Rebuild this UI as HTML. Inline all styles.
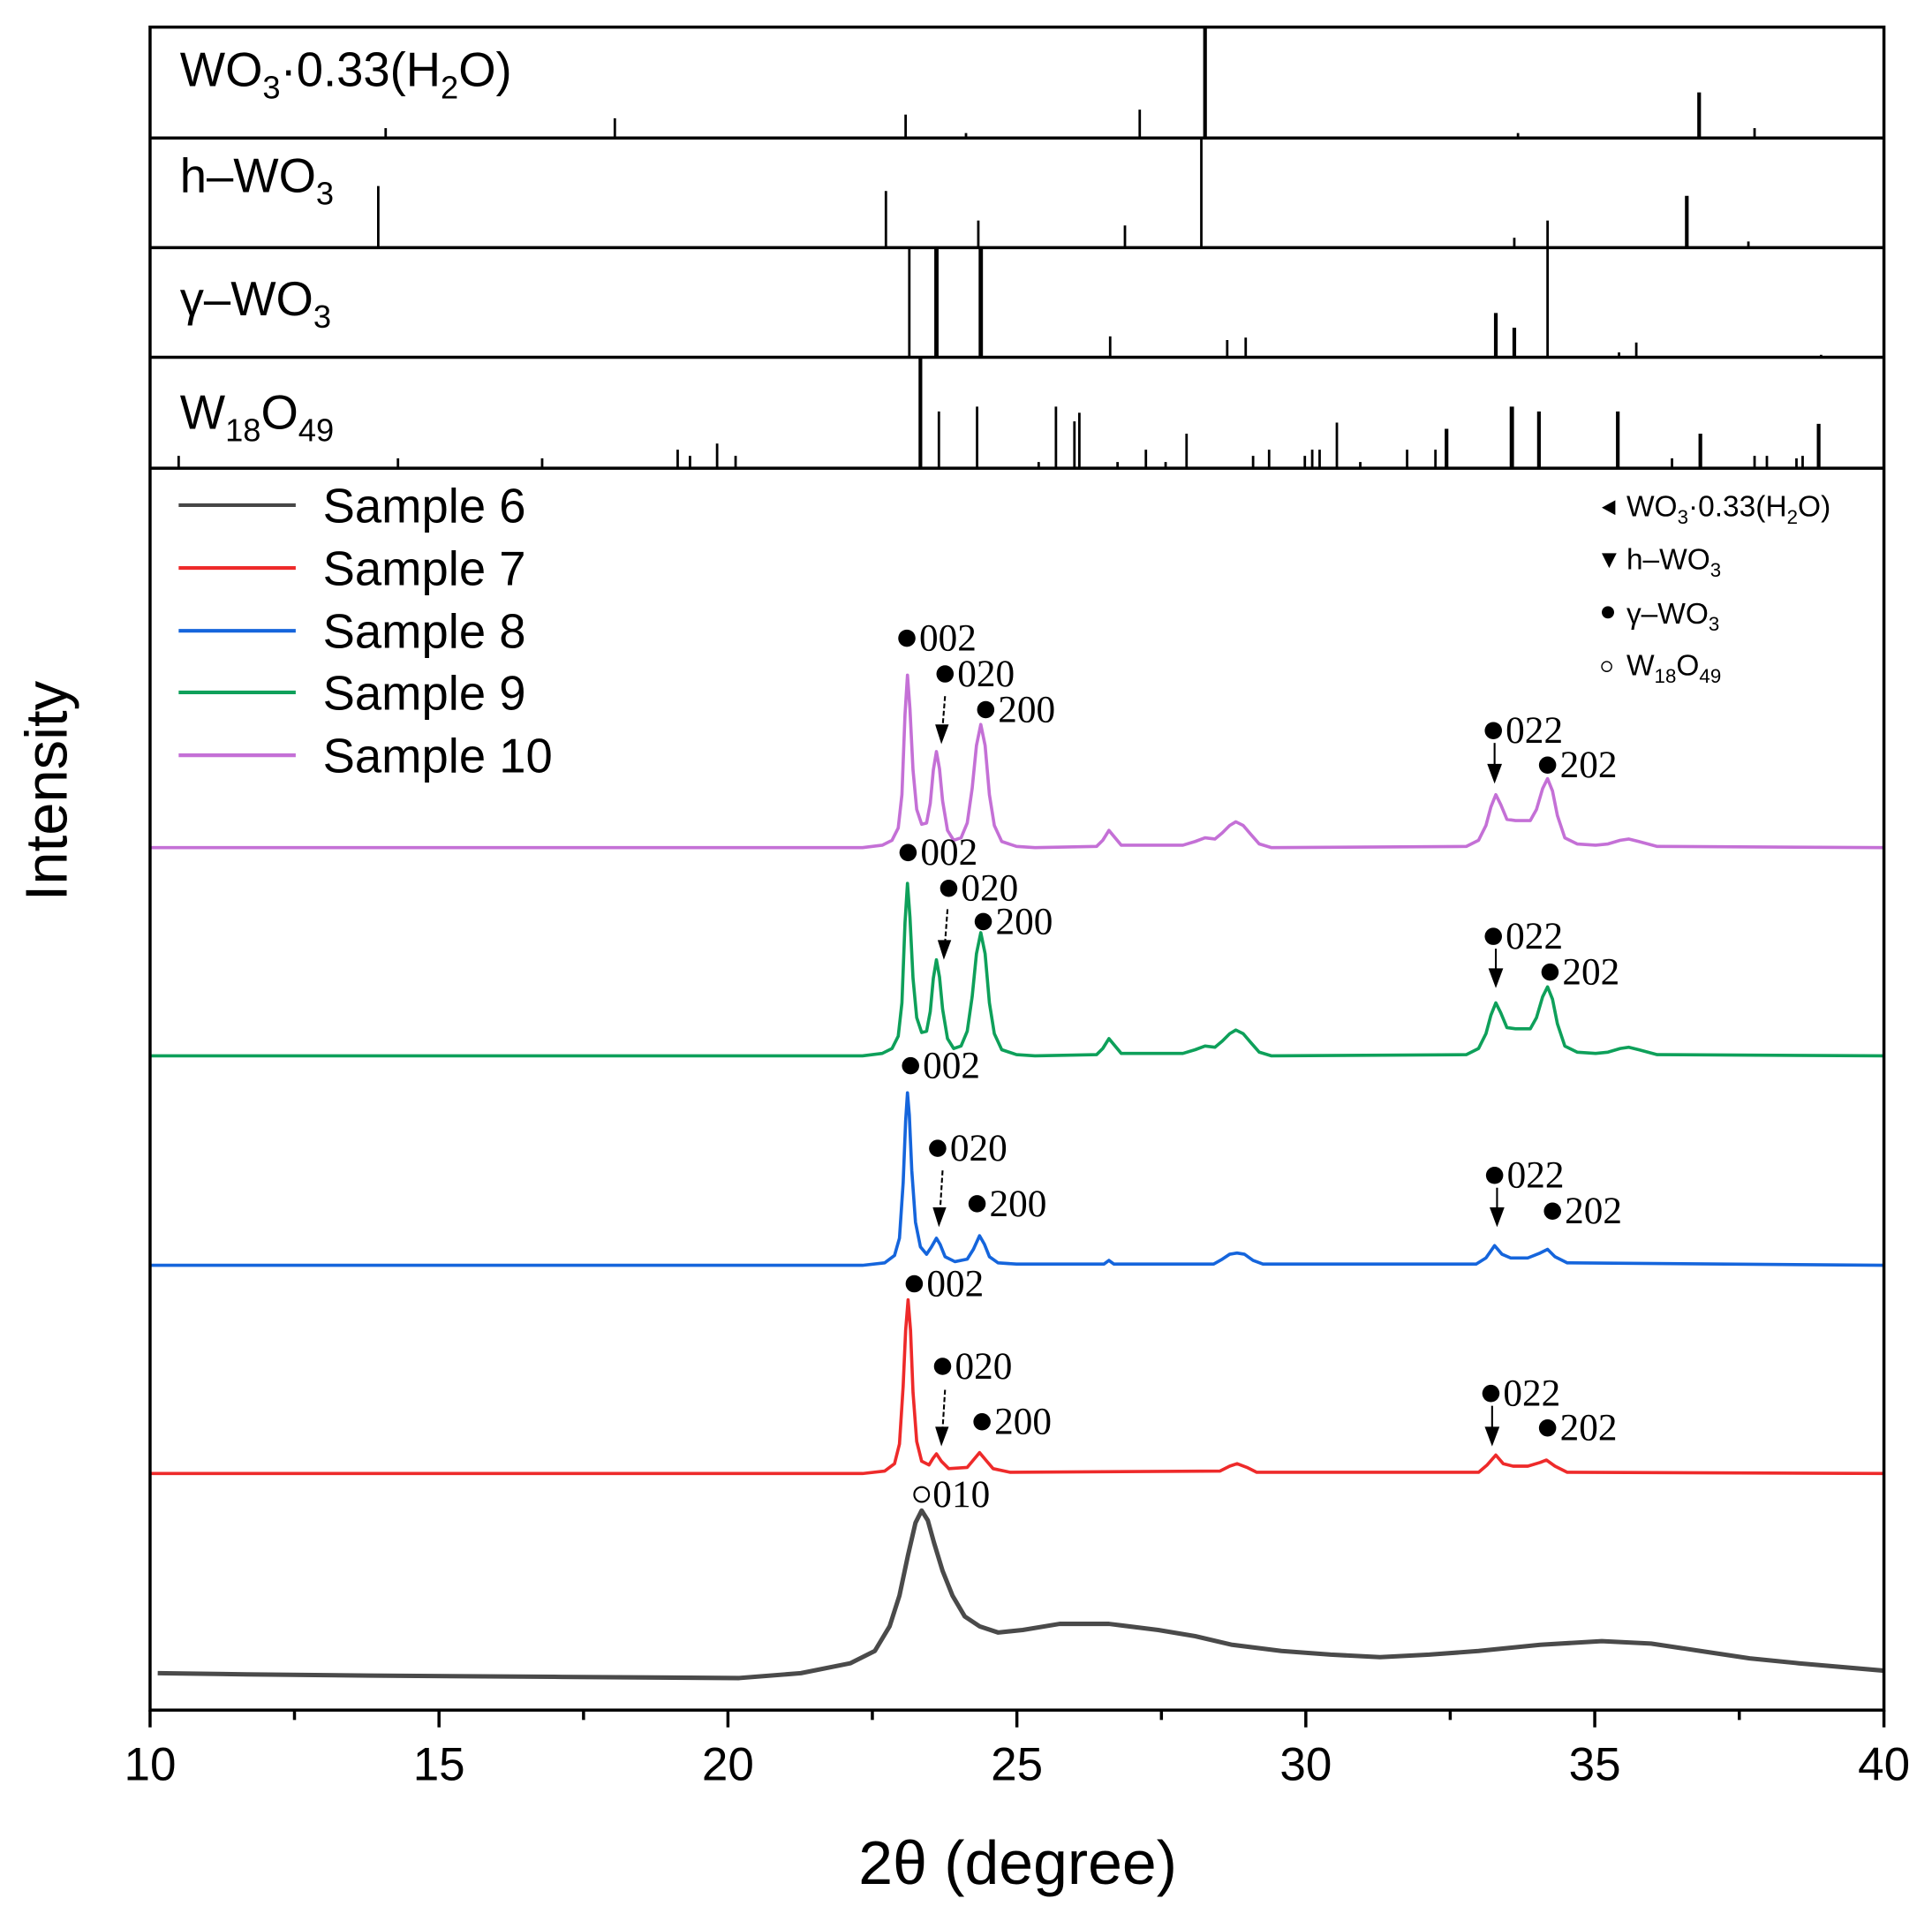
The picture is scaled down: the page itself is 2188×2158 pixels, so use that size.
<!DOCTYPE html>
<html><head><meta charset="utf-8"><style>
html,body{margin:0;padding:0;background:#fff;}
svg{display:block;}
text{font-family:"Liberation Sans",sans-serif;}
.s text{font-family:"Liberation Serif",serif;font-size:31px;}
</style></head><body>
<svg width="2188" height="2158" viewBox="0 0 1568 1547" preserveAspectRatio="none" xmlns="http://www.w3.org/2000/svg">
<rect width="1568" height="1547" fill="#fff"/>
<defs>
<polyline id="p10" fill="none" points="122,688 700,688 716,686 724,682 729,672 732,645 734.5,580 736.5,548 738.5,575 741,625 744,657 748,669 752,668 755,652 757.5,625 760,610 762.5,624 765,650 769,674 774,682 780,680 785,668 789,640 792.5,605 796,588 799.5,605 803,645 807,670 813,683 825,687 840,688 890,687 895,682 900,674 905,680 910,686 960,686 970,683 978,680 986,681 992,676 998,670 1003,667 1009,670 1015,677 1022,685 1032,688 1190,687 1200,682 1206,670 1210,655 1214,645 1218,653 1223,665 1230,666 1237,666 1242,666 1247,657 1252,640 1256,632 1260,642 1264,662 1270,680 1280,685 1295,686 1305,685 1315,682 1322,681 1330,683 1345,687 1529,688"/>
</defs>
<!-- sticks -->
<g stroke="#000" stroke-width="2">
<line x1="313" y1="112" x2="313" y2="104"/><line x1="499" y1="112" x2="499" y2="96"/><line x1="735" y1="112" x2="735" y2="93"/><line x1="784" y1="112" x2="784" y2="108"/><line x1="925" y1="112" x2="925" y2="89"/><line x1="978" y1="112" x2="978" y2="22" stroke-width="3"/><line x1="1232" y1="112" x2="1232" y2="108"/><line x1="1379" y1="112" x2="1379" y2="75" stroke-width="3"/><line x1="1424" y1="112" x2="1424" y2="104"/>
<line x1="307" y1="201" x2="307" y2="151"/><line x1="719" y1="201" x2="719" y2="155"/><line x1="794" y1="201" x2="794" y2="179"/><line x1="913" y1="201" x2="913" y2="183"/><line x1="975" y1="201" x2="975" y2="112"/><line x1="1229" y1="201" x2="1229" y2="193"/><line x1="1256" y1="201" x2="1256" y2="179"/><line x1="1369" y1="201" x2="1369" y2="159" stroke-width="3"/><line x1="1419" y1="201" x2="1419" y2="196"/>
<line x1="738" y1="290" x2="738" y2="201"/><line x1="760" y1="290" x2="760" y2="201" stroke-width="3.5"/><line x1="796" y1="290" x2="796" y2="201" stroke-width="3.5"/><line x1="901" y1="290" x2="901" y2="273"/><line x1="996" y1="290" x2="996" y2="276"/><line x1="1011" y1="290" x2="1011" y2="274"/><line x1="1214" y1="290" x2="1214" y2="254" stroke-width="3"/><line x1="1229" y1="290" x2="1229" y2="266" stroke-width="3"/><line x1="1256" y1="290" x2="1256" y2="201"/><line x1="1314" y1="290" x2="1314" y2="286"/><line x1="1328" y1="290" x2="1328" y2="278"/><line x1="1478" y1="290" x2="1478" y2="288"/>
<line x1="145" y1="380" x2="145" y2="370"/><line x1="323" y1="380" x2="323" y2="372"/><line x1="440" y1="380" x2="440" y2="372"/><line x1="550" y1="380" x2="550" y2="365"/><line x1="560" y1="380" x2="560" y2="370"/><line x1="582" y1="380" x2="582" y2="360"/><line x1="597" y1="380" x2="597" y2="370"/><line x1="747" y1="380" x2="747" y2="290" stroke-width="3"/><line x1="762" y1="380" x2="762" y2="334"/><line x1="793" y1="380" x2="793" y2="330"/><line x1="843" y1="380" x2="843" y2="375"/><line x1="857" y1="380" x2="857" y2="330"/><line x1="872" y1="380" x2="872" y2="342"/><line x1="876" y1="380" x2="876" y2="335"/><line x1="907" y1="380" x2="907" y2="375"/><line x1="930" y1="380" x2="930" y2="365"/><line x1="946" y1="380" x2="946" y2="375"/><line x1="963" y1="380" x2="963" y2="352"/><line x1="1017" y1="380" x2="1017" y2="370"/><line x1="1030" y1="380" x2="1030" y2="365"/><line x1="1059" y1="380" x2="1059" y2="370"/><line x1="1065" y1="380" x2="1065" y2="365"/><line x1="1071" y1="380" x2="1071" y2="365"/><line x1="1085" y1="380" x2="1085" y2="343"/><line x1="1104" y1="380" x2="1104" y2="375"/><line x1="1142" y1="380" x2="1142" y2="365"/><line x1="1165" y1="380" x2="1165" y2="365"/><line x1="1174" y1="380" x2="1174" y2="348" stroke-width="3"/><line x1="1227" y1="380" x2="1227" y2="330" stroke-width="3.5"/><line x1="1249" y1="380" x2="1249" y2="334" stroke-width="3"/><line x1="1313" y1="380" x2="1313" y2="334" stroke-width="3"/><line x1="1357" y1="380" x2="1357" y2="372"/><line x1="1380" y1="380" x2="1380" y2="352" stroke-width="3"/><line x1="1424" y1="380" x2="1424" y2="370"/><line x1="1434" y1="380" x2="1434" y2="370"/><line x1="1458" y1="380" x2="1458" y2="372"/><line x1="1463" y1="380" x2="1463" y2="370"/><line x1="1476" y1="380" x2="1476" y2="344" stroke-width="3"/>
</g>
<!-- curves -->
<g fill="none" stroke-width="2.6" stroke-linejoin="round">
<use href="#p10" stroke="#c470d6"/>
<use href="#p10" stroke="#0ea05a" transform="translate(0,169)"/>
<polyline stroke="#1565dc" points="122,1027 700,1027 718,1025 726,1019 730,1005 733,960 735,910 736.5,887 738,905 740,950 743,992 747,1012 752,1018 756,1012 760,1005 763,1010 767,1020 775,1024 785,1022 790,1014 795,1003 799,1010 803,1020 810,1025 825,1026 896,1026 900,1023 904,1026 985,1026 992,1022 998,1018 1004,1017 1010,1018 1017,1023 1025,1026 1198,1026 1206,1021 1213,1011 1219,1018 1226,1021 1240,1021 1250,1017 1256,1014 1262,1020 1272,1025 1529,1027"/>
<polyline stroke="#ee2a2a" points="122,1196 700,1196 718,1194 726,1188 730,1172 733,1125 735,1080 737,1055 739,1080 741,1130 744,1170 748,1186 754,1189 757,1184 760,1180 764,1186 770,1192 785,1191 790,1185 795,1179 800,1185 806,1192 820,1195 990,1194 998,1190 1004,1188 1012,1191 1020,1195 1200,1195 1207,1189 1214,1181 1220,1188 1228,1190 1240,1190 1250,1187 1255,1185 1262,1190 1272,1195 1529,1196"/>
<polyline stroke="#4a4a4a" stroke-width="3.6" points="128,1358 200,1359 300,1360 450,1361 600,1362 650,1358 690,1350 710,1340 722,1320 730,1295 737,1262 743,1236 748,1226 753,1234 758,1252 765,1275 773,1295 783,1312 795,1320 810,1325 830,1323 860,1318 900,1318 940,1323 970,1328 1000,1335 1040,1340 1080,1343 1120,1345 1160,1343 1200,1340 1250,1335 1300,1332 1340,1334 1380,1340 1420,1346 1460,1350 1529,1356"/>
</g>
<!-- frames -->
<g fill="none" stroke="#000" stroke-width="2.5">
<rect x="121.8" y="22" width="1407.2" height="1366"/>
<line x1="121.8" y1="112" x2="1529" y2="112"/>
<line x1="121.8" y1="201" x2="1529" y2="201"/>
<line x1="121.8" y1="290" x2="1529" y2="290"/>
<line x1="121.8" y1="380" x2="1529" y2="380"/>
</g>
<g stroke="#000" stroke-width="2.5">
<line x1="121.8" y1="1388" x2="121.8" y2="1402"/><line x1="239" y1="1388" x2="239" y2="1396"/><line x1="356.3" y1="1388" x2="356.3" y2="1402"/><line x1="473.6" y1="1388" x2="473.6" y2="1396"/><line x1="590.8" y1="1388" x2="590.8" y2="1402"/><line x1="708" y1="1388" x2="708" y2="1396"/><line x1="825.3" y1="1388" x2="825.3" y2="1402"/><line x1="942.6" y1="1388" x2="942.6" y2="1396"/><line x1="1059.8" y1="1388" x2="1059.8" y2="1402"/><line x1="1177" y1="1388" x2="1177" y2="1396"/><line x1="1294.3" y1="1388" x2="1294.3" y2="1402"/><line x1="1411.6" y1="1388" x2="1411.6" y2="1396"/><line x1="1529" y1="1388" x2="1529" y2="1402"/>
</g>
<!-- panel labels -->
<text x="146" y="70" font-size="39">WO<tspan font-size="26" dy="10">3</tspan><tspan dy="-10">·0.33(H</tspan><tspan font-size="26" dy="10">2</tspan><tspan dy="-10">O)</tspan></text>
<text x="146" y="156" font-size="39">h–WO<tspan font-size="26" dy="10">3</tspan></text>
<text x="146" y="256" font-size="39">γ–WO<tspan font-size="26" dy="10">3</tspan></text>
<text x="146" y="348" font-size="39">W<tspan font-size="26" dy="10">18</tspan><tspan dy="-10">O</tspan><tspan font-size="26" dy="10">49</tspan></text>
<!-- legend -->
<g stroke-width="3">
<line x1="145" y1="410" x2="240" y2="410" stroke="#474747"/>
<line x1="145" y1="461" x2="240" y2="461" stroke="#ee2a2a"/>
<line x1="145" y1="512" x2="240" y2="512" stroke="#1565dc"/>
<line x1="145" y1="562" x2="240" y2="562" stroke="#0ea05a"/>
<line x1="145" y1="613" x2="240" y2="613" stroke="#c470d6"/>
</g>
<g font-size="39">
<text x="262" y="424">Sample 6</text>
<text x="262" y="475">Sample 7</text>
<text x="262" y="526">Sample 8</text>
<text x="262" y="576">Sample 9</text>
<text x="262" y="627">Sample 10</text>
</g>
<!-- phase legend -->
<g font-size="24">
<polygon points="1300,412 1311,406 1311,418" fill="#000"/>
<text x="1320" y="419">WO<tspan font-size="16" dy="6">3</tspan><tspan dy="-6">·0.33(H</tspan><tspan font-size="16" dy="6">2</tspan><tspan dy="-6">O)</tspan></text>
<polygon points="1300,449 1312,449 1306,461" fill="#000"/>
<text x="1320" y="462">h–WO<tspan font-size="16" dy="6">3</tspan></text>
<circle cx="1305" cy="497" r="5" fill="#000"/>
<text x="1320" y="506">γ–WO<tspan font-size="16" dy="6">3</tspan></text>
<circle cx="1304" cy="541" r="4" fill="none" stroke="#000" stroke-width="1"/>
<text x="1320" y="548">W<tspan font-size="16" dy="6">18</tspan><tspan dy="-6">O</tspan><tspan font-size="16" dy="6">49</tspan></text>
</g>
<!-- axis labels -->
<g font-size="38" text-anchor="middle">
<text x="121.8" y="1445">10</text><text x="356.3" y="1445">15</text><text x="590.8" y="1445">20</text>
<text x="825.3" y="1445">25</text><text x="1059.8" y="1445">30</text><text x="1294.3" y="1445">35</text><text x="1529" y="1445">40</text>
</g>
<text x="826" y="1529" font-size="50" text-anchor="middle">2θ (degree)</text>
<text transform="translate(54,642) rotate(-90)" font-size="48" text-anchor="middle">Intensity</text>
<g class="s">
<circle cx="736" cy="518" r="7"/><text x="746" y="528">002</text>
<circle cx="767" cy="547" r="7"/><text x="777" y="557">020</text>
<circle cx="800" cy="576" r="7"/><text x="810" y="586">200</text>
<circle cx="1212" cy="593" r="7"/><text x="1222" y="603">022</text>
<circle cx="1256" cy="621" r="7"/><text x="1266" y="631">202</text>
<circle cx="737" cy="692" r="7"/><text x="747" y="702">002</text>
<circle cx="770" cy="721" r="7"/><text x="780" y="731">020</text>
<circle cx="798" cy="748" r="7"/><text x="808" y="758">200</text>
<circle cx="1212" cy="760" r="7"/><text x="1222" y="770">022</text>
<circle cx="1258" cy="789" r="7"/><text x="1268" y="799">202</text>
<circle cx="739" cy="865" r="7"/><text x="749" y="875">002</text>
<circle cx="761" cy="932" r="7"/><text x="771" y="942">020</text>
<circle cx="793" cy="977" r="7"/><text x="803" y="987">200</text>
<circle cx="1213" cy="954" r="7"/><text x="1223" y="964">022</text>
<circle cx="1260" cy="983" r="7"/><text x="1270" y="993">202</text>
<circle cx="742" cy="1042" r="7"/><text x="752" y="1052">002</text>
<circle cx="765" cy="1109" r="7"/><text x="775" y="1119">020</text>
<circle cx="797" cy="1154" r="7"/><text x="807" y="1164">200</text>
<circle cx="1210" cy="1131" r="7"/><text x="1220" y="1141">022</text>
<circle cx="1256" cy="1159" r="7"/><text x="1266" y="1169">202</text>
<circle cx="748" cy="1213" r="6" fill="none" stroke="#000" stroke-width="1.5"/><text x="757" y="1223">010</text>
</g>
<!-- arrows -->
<g stroke="#000" stroke-width="1.5">
<line x1="767" y1="565" x2="765" y2="590" stroke-dasharray="4,2"/><line x1="769" y1="738" x2="767" y2="765" stroke-dasharray="4,2"/><line x1="765" y1="950" x2="763" y2="982" stroke-dasharray="4,2"/><line x1="767" y1="1128" x2="765" y2="1160" stroke-dasharray="4,2"/>
<line x1="1213" y1="603" x2="1213" y2="625"/><line x1="1214" y1="770" x2="1214" y2="790"/><line x1="1215" y1="964" x2="1215" y2="984"/><line x1="1211" y1="1141" x2="1211" y2="1162"/>
</g>
<g fill="#000">
<polygon points="759,588 770,588 764,604"/><polygon points="761,763 772,763 766,779"/><polygon points="757,980 768,980 762,996"/><polygon points="759,1158 770,1158 764,1174"/>
<polygon points="1207,620 1219,620 1213,636"/><polygon points="1208,786 1220,786 1214,802"/><polygon points="1209,980 1221,980 1215,996"/><polygon points="1205,1158 1217,1158 1211,1174"/>
</g>
</svg>
</body></html>
